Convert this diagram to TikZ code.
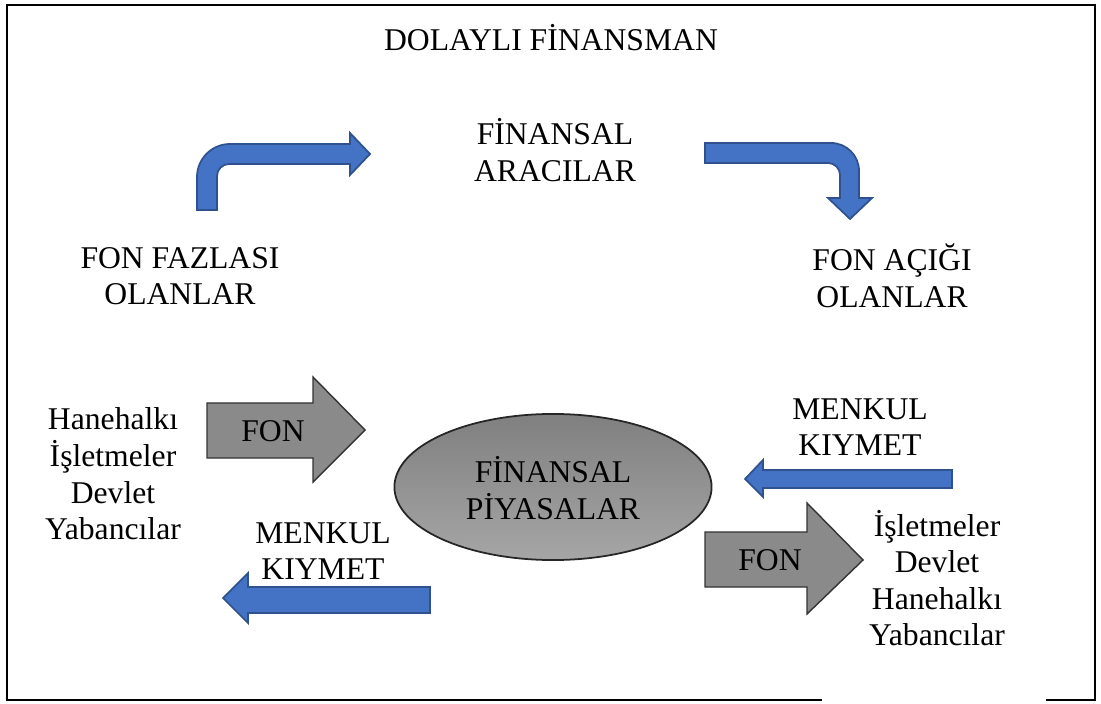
\documentclass[tikz,border=0pt]{standalone}
\usepackage{fontspec}
\setmainfont{Liberation Serif}
\usepackage{tikz}
\usetikzlibrary{shapes.geometric, positioning, calc}
\definecolor{arrowblue}{RGB}{68, 114, 196}
\definecolor{arrowedge}{RGB}{47, 82, 143}
\definecolor{fongray}{RGB}{138, 138, 138}

\begin{document}
\begin{tikzpicture}[x=0.01cm, y=-0.01cm,
    label/.style={font=\fontsize{9}{10.4}\selectfont, align=center, inner sep=0pt},
    bluearrow/.style={fill=arrowblue, draw=arrowedge, line width=0.5pt, line join=miter},
    grayarrow/.style={fill=fongray, draw=black!80, line width=0.4pt},
    market/.style={ellipse, draw=black!85, line width=0.5pt, top color=black!50, bottom color=black!35, minimum width=3.17cm, minimum height=1.46cm}]
    \useasboundingbox (0, 0) rectangle (1101, 704);

    % Frame
    \draw[line width=0.7pt] (822, 700) -- (7, 700) -- (7, 5) -- (1095, 5) -- (1095, 700) -- (1046, 700);

    % Title
    \node[label] (title) at (551, 38) {DOLAYLI FİNANSMAN};

    % Top row
    \node[label] (aracilar) at (555, 150) {FİNANSAL\\ARACILAR};
    \node[label] (fazla) at (180, 276) {FON FAZLASI\\OLANLAR};
    \node[label] (acik) at (892, 276) {FON AÇIĞI\\OLANLAR};

    % Bent arrows
    \draw[bluearrow] (197, 210) -- (197, 177) .. controls (197, 158.8) and (211.8, 144) .. (230, 144)
        -- (350, 144) -- (350, 133) -- (370, 154) -- (350, 175) -- (350, 164) -- (229, 164)
        .. controls (222.4, 164) and (217, 169.4) .. (217, 176) -- (217, 210) -- cycle;
    \draw[bluearrow] (705, 143) -- (831, 143) .. controls (846.5, 143) and (859, 155.5) .. (859, 171)
        -- (859, 198) -- (872, 198) -- (850, 219) -- (828, 198) -- (840, 198) -- (840, 175)
        .. controls (840, 168.4) and (834.6, 163) .. (828, 163) -- (705, 163) -- cycle;

    % Market
    \node[market] (piyasa) at (553, 487) {};
    \node[label] (piyasatext) at (553, 488) {FİNANSAL\\PİYASALAR};

    % Left side
    \node[label] (sunanlar) at (113, 474) {Hanehalkı\\İşletmeler\\Devlet\\Yabancılar};
    \draw[grayarrow] (207, 403) -- (313, 403) -- (313, 377) -- (365, 430) -- (313, 482) -- (313, 458) -- (207, 458) -- cycle;
    \node[label] (fon1) at (273, 431) {FON};
    \node[label] (menkul1) at (323, 551) {MENKUL\\KIYMET};
    \draw[bluearrow] (430, 587) -- (248, 587) -- (248, 573) -- (223, 598) -- (248, 623) -- (248, 613) -- (430, 613) -- cycle;

    % Right side
    \node[label] (menkul2) at (860, 427) {MENKUL\\KIYMET};
    \draw[bluearrow] (952, 470) -- (763, 470) -- (763, 460) -- (745, 479) -- (763, 497) -- (763, 488) -- (952, 488) -- cycle;
    \draw[grayarrow] (705, 532) -- (807, 532) -- (807, 503) -- (863, 560) -- (807, 614) -- (807, 587) -- (705, 587) -- cycle;
    \node[label] (fon2) at (770, 560) {FON};
    \node[label] (kullananlar) at (937, 578) {İşletmeler\\Devlet\\Hanehalkı\\Yabancılar};
\end{tikzpicture}
\end{document}
